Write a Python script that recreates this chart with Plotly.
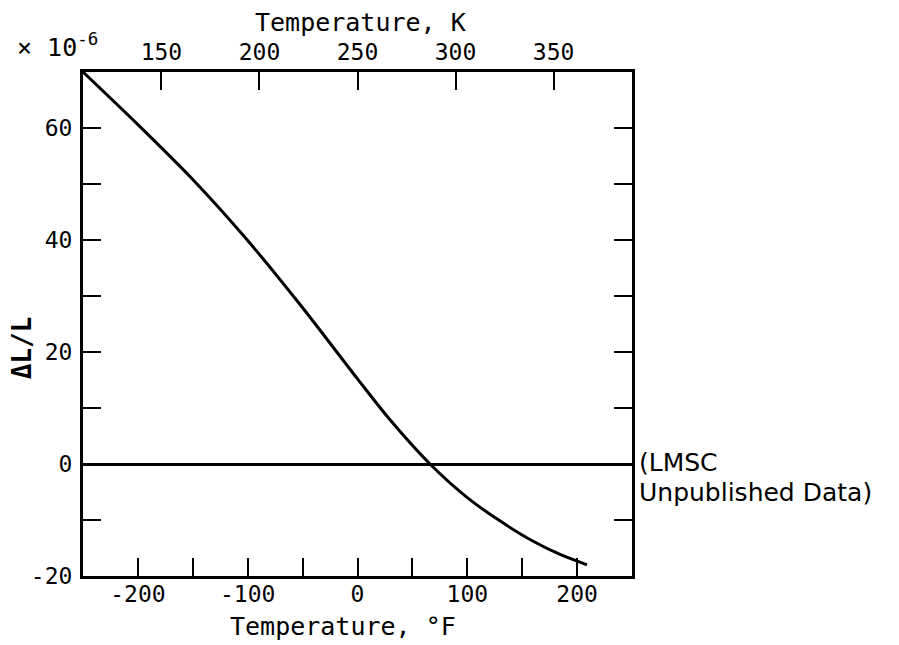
import plotly.graph_objects as go

# curve (°F vs dL/L in units of 1e-6)
temp_f = [-250, -200, -150, -100, -50, 0, 30, 66, 100, 130, 160, 185, 209]
dl_l = [70, 60.6, 50.8, 39.9, 27.9, 15.2, 7.8, 0, -6.0, -10.2, -13.8, -16.2, -18]

f_ticks = [-200, -150, -100, -50, 0, 50, 100, 150, 200]
f_labels = ["-200", "", "-100", "", "0", "", "100", "", "200"]
y_ticks = [-20, -10, 0, 10, 20, 30, 40, 50, 60]
y_labels = ["-20", "", "0", "", "20", "", "40", "", "60"]
k_ticks = [150, 200, 250, 300, 350]

mono = "DejaVu Sans Mono"

fig = go.Figure()
fig.add_trace(go.Scatter(x=temp_f, y=dl_l, mode="lines",
                         line=dict(color="black", width=3, shape="spline", smoothing=0.8),
                         hoverinfo="skip", showlegend=False))
# empty trace so the Kelvin axis on top gets drawn
fig.add_trace(go.Scatter(x=k_ticks, y=[None] * len(k_ticks), xaxis="x2", mode="lines",
                         hoverinfo="skip", showlegend=False))

axis_common = dict(showgrid=False, showline=True, linecolor="black", linewidth=3,
                   ticks="inside", ticklen=18, tickwidth=2, tickcolor="black",
                   tickfont=dict(family=mono, size=23, color="black"))

# the page body adds an 8px offset, so the figure is 8px smaller each way
fig.update_layout(
    width=891, height=637,
    margin=dict(l=75, r=267, t=64, b=69),
    paper_bgcolor="white", plot_bgcolor="white",
    xaxis=dict(range=[-250, 250], tickmode="array", tickvals=f_ticks, ticktext=f_labels,
               mirror=True, zeroline=False, ticklabelstandoff=-5, **axis_common),
    xaxis2=dict(range=[110, 390], overlaying="x", side="top", anchor="y",
                tickmode="array", tickvals=k_ticks, zeroline=False, ticklabelstandoff=0,
                **axis_common),
    yaxis=dict(range=[-20, 70], tickmode="array", tickvals=y_ticks, ticktext=y_labels,
               mirror="ticks", zeroline=True, zerolinecolor="black", zerolinewidth=2.5,
               ticklabelstandoff=3, **axis_common),
    annotations=[
        dict(text="Temperature, K", xref="paper", yref="paper", x=0.5046, y=1,
             xanchor="center", yanchor="middle", yshift=50, showarrow=False,
             font=dict(family=mono, size=25, color="black")),
        dict(text="Temperature, °F", xref="paper", yref="paper", x=0.474, y=0,
             xanchor="center", yanchor="middle", yshift=-50, showarrow=False,
             font=dict(family=mono, size=25, color="black")),
        dict(text="× 10<sup>-6</sup>", xref="paper", yref="paper", x=0, y=1,
             xanchor="right", yanchor="bottom", xshift=17, yshift=8, showarrow=False,
             font=dict(family=mono, size=25, color="black")),
        dict(text="<b>ΔL/L</b>", xref="paper", yref="paper", x=0, y=0.452,
             xanchor="center", yanchor="middle", xshift=-61, textangle=-90,
             showarrow=False, font=dict(family=mono, size=26, color="black")),
        dict(text="(LMSC", xref="paper", yref="y", x=1, y=0, xanchor="left",
             yanchor="middle", xshift=6, yshift=2, showarrow=False, borderpad=0,
             font=dict(family="DejaVu Sans", size=25, color="black")),
        dict(text="Unpublished Data)", xref="paper", yref="y", x=1, y=0, xanchor="left",
             yanchor="middle", xshift=6, yshift=-28, showarrow=False, borderpad=0,
             font=dict(family="DejaVu Sans", size=25, color="black")),
    ],
)

fig.write_html("out.html")
